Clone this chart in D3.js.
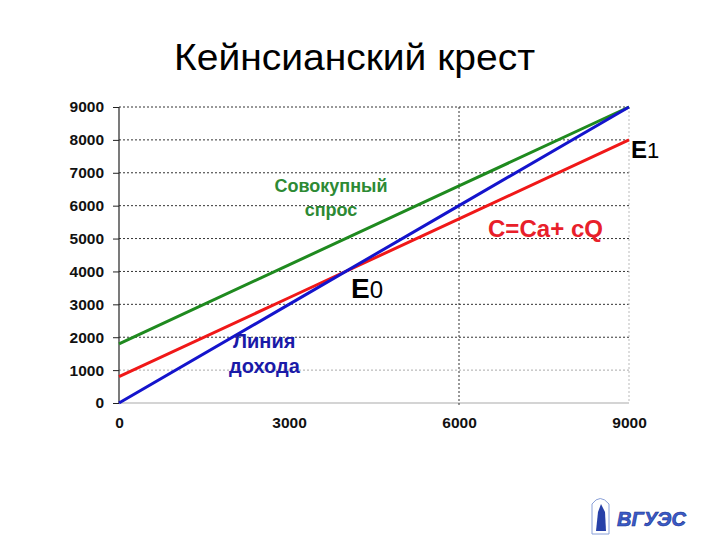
<!DOCTYPE html>
<html><head><meta charset="utf-8">
<script src="https://cdn.jsdelivr.net/npm/d3@7"></script>
<style>body{margin:0;background:#fff;} svg{display:block;}</style>
</head><body>
<svg id="c" width="720" height="540"></svg>
<script>
const Q = [0, 3000, 6000, 9000];
const income = [0, 3000, 6000, 9000];          // Линия дохода Y = Q
const consumption = [800, 3200, 5600, 8000];   // C = Ca + cQ
const demand = [1800, 4200, 6600, 9000];       // Совокупный спрос
const yTicks = [0,1000,2000,3000,4000,5000,6000,7000,8000,9000];
const xTicks = [0,3000,6000,9000];

const svg = d3.select("#c");
const x = d3.scaleLinear().domain([0,9000]).range([119,629]);
const y = d3.scaleLinear().domain([0,9000]).range([403,107]);
const F = "Liberation Sans, Arial, sans-serif";

svg.append("text").attr("x",174).attr("y",70)
  .attr("font-family",F).attr("font-size",37).attr("fill","#000")
  .attr("textLength",361).attr("lengthAdjust","spacingAndGlyphs").text("Кейнсианский крест");

// horizontal grid
svg.append("g").selectAll("line").data(yTicks.filter(d=>d>0)).join("line")
  .attr("x1",x(0)).attr("x2",x(9000)).attr("y1",d=>y(d)).attr("y2",d=>y(d))
  .attr("stroke",d=>d===1000?"#aaa":"#333").attr("stroke-width",1)
  .attr("stroke-dasharray","2,2");
// baseline
svg.append("line").attr("x1",x(0)).attr("x2",x(9000)).attr("y1",y(0)).attr("y2",y(0))
  .attr("stroke","#aaa").attr("stroke-width",1.2);
// vertical grid
svg.append("line").attr("x1",x(6000)).attr("x2",x(6000)).attr("y1",y(9000)).attr("y2",y(0)+4)
  .attr("stroke","#333").attr("stroke-dasharray","2,2");
svg.append("line").attr("x1",x(9000)).attr("x2",x(9000)).attr("y1",y(9000)).attr("y2",y(0))
  .attr("stroke","#bbb").attr("stroke-dasharray","2,2");

// y axis
const ya = svg.append("g").attr("transform",`translate(${x(0)},0)`)
  .call(d3.axisLeft(y).tickValues(yTicks).tickSize(6).tickPadding(9).tickFormat(d3.format("d")));
ya.select(".domain").attr("stroke","#222").attr("stroke-width",1.2).attr("d",`M-0,${y(9000)}V${y(0)}`);
ya.selectAll(".tick line").attr("stroke","#222");
ya.selectAll("text").attr("font-family",F).attr("font-size",15.5).attr("font-weight","bold").attr("fill","#111");

// x axis labels
const xa = svg.append("g").attr("transform",`translate(0,${y(0)})`)
  .call(d3.axisBottom(x).tickValues(xTicks).tickSize(0).tickPadding(14).tickFormat(d3.format("d")));
xa.select(".domain").remove();
xa.selectAll("text").attr("font-family",F).attr("font-size",15.5).attr("font-weight","bold").attr("fill","#111");

const line = (vals) => d3.line().x((d,i)=>x(Q[i])).y(d=>y(d))(vals);
svg.append("path").attr("d",line(demand)).attr("fill","none").attr("stroke","#1f8a1f").attr("stroke-width",3);
svg.append("path").attr("d",line(consumption)).attr("fill","none").attr("stroke","#f01818").attr("stroke-width",3);
svg.append("path").attr("d",line(income)).attr("fill","none").attr("stroke","#1414cc").attr("stroke-width",3);

// labels
svg.append("text").attr("x",331).attr("y",192).attr("text-anchor","middle").attr("font-family",F)
  .attr("font-size",18).attr("font-weight","bold").attr("fill","#2d8a34").text("Совокупный");
svg.append("text").attr("x",331).attr("y",216).attr("text-anchor","middle").attr("font-family",F)
  .attr("font-size",18).attr("font-weight","bold").attr("fill","#2d8a34").text("спрос");
svg.append("text").attr("x",488).attr("y",237).attr("font-family",F)
  .attr("font-size",23).attr("font-weight","bold").attr("fill","#e8202a")
  .attr("textLength",115).attr("lengthAdjust","spacingAndGlyphs").text("C=Ca+ cQ");
svg.append("text").attr("x",233).attr("y",348).attr("font-family",F)
  .attr("font-size",20).attr("font-weight","bold").attr("fill","#1a1aa8").text("Линия");
svg.append("text").attr("x",229).attr("y",373).attr("font-family",F)
  .attr("font-size",20).attr("font-weight","bold").attr("fill","#1a1aa8").text("дохода");
const e0 = svg.append("text").attr("x",351).attr("y",298).attr("font-family",F).attr("fill","#000");
e0.append("tspan").attr("font-size",28).attr("font-weight","bold").text("E");
e0.append("tspan").attr("font-size",24).text("0");
const e1 = svg.append("text").attr("x",631).attr("y",158).attr("font-family",F).attr("fill","#000");
e1.append("tspan").attr("font-size",24).attr("font-weight","bold").text("E");
e1.append("tspan").attr("font-size",22).text("1");

// logo
const lg = svg.append("g");
lg.append("path").attr("d","M592,534 L592,504 Q600,493 609,504 L609,534 Z")
  .attr("fill","none").attr("stroke","#8aa0d8").attr("stroke-width",1);
lg.append("path").attr("d","M596,531 L598,512 L601,504 L605,512 L606,531 Z").attr("fill","#2740a8");
lg.append("text").attr("x",617).attr("y",526).attr("font-family",F).attr("font-size",20)
  .attr("font-weight","bold").attr("font-style","italic").attr("fill","#3a5cc8")
  .attr("stroke","#1a2f90").attr("stroke-width",0.6).text("ВГУЭС");
</script>
</body></html>
